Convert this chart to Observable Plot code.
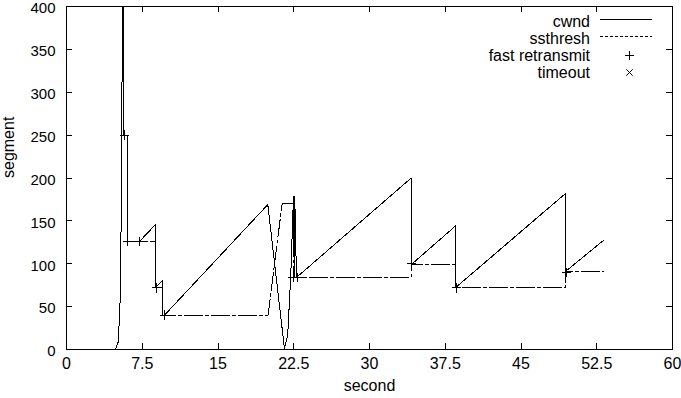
<!DOCTYPE html>
<html><head><meta charset="utf-8">
<script src="https://cdn.jsdelivr.net/npm/d3@7"></script>
<script src="https://cdn.jsdelivr.net/npm/@observablehq/plot@0.6"></script>
<style>body{margin:0;background:#fff;}</style>
</head><body><div id="chart"></div>
<script>
// cwnd (segments) over time (seconds)
const cwndTime = [4.85, 5.1, 5.2, 5.3, 5.38, 5.45, 5.5, 5.55, 5.62, 5.65, 5.66, 6.05, 6.05, 7.23, 8.83, 8.83, 9.53, 9.53, 9.7, 19.93, 21.58, 21.9, 22.2, 22.45, 22.5, 22.55, 22.6, 22.77, 34.13, 34.13, 38.51, 38.51, 49.41, 49.41, 53.14];
const cwndSeg  = [0, 8, 28, 55, 120, 190, 320, 440, 440, 316, 250, 250, 126, 126, 146, 72, 81, 40, 40, 169, 1, 17, 85, 170, 178, 84, 178, 84, 200, 99, 144, 72, 182, 91, 127];
// ssthresh
const ssthreshTime = [5.65, 8.83, 8.83, 9.53, 9.53, 19.96, 21.35, 22.52, 22.52, 34.13, 34.13, 38.51, 38.51, 49.41, 49.41, 53.14];
const ssthreshSeg  = [126, 126, 72, 72, 40, 40, 170, 170, 84, 84, 99, 99, 72, 72, 91, 91];
// fast retransmit events
const fastRetransmitTime = [5.73, 6.05, 7.23, 8.9, 9.7, 22.45, 22.9, 34.16, 38.6, 49.5];
const fastRetransmitSeg  = [250, 126, 126, 72, 40, 84, 84, 100, 72, 90];
// timeout events (none visible)
const timeoutTime = [];
const timeoutSeg = [];
// axes
const xTicks = [0, 7.5, 15, 22.5, 30, 37.5, 45, 52.5, 60];
const yTicks = [0, 50, 100, 150, 200, 250, 300, 350, 400];
const seriesNames = ["cwnd", "ssthresh", "fast retransmit", "timeout"];
const xLabel = "second";
const yLabel = "segment";

const cwnd = cwndTime.map((t, i) => ({t, v: cwndSeg[i]}));
const ssthresh = ssthreshTime.map((t, i) => ({t, v: ssthreshSeg[i]}));
const fr = fastRetransmitTime.map((t, i) => ({t, v: fastRetransmitSeg[i]}));
const to = timeoutTime.map((t, i) => ({t, v: timeoutSeg[i]}));

const W = 681, H = 398, mL = 66, mR = 9, mT = 6, mB = 49;
const fw = W - mL - mR, fh = H - mT - mB;
const dash = "18,3,3,3";

const chart = Plot.plot({
  width: W, height: H, marginLeft: mL, marginRight: mR, marginTop: mT, marginBottom: mB,
  style: {fontFamily: "'Liberation Sans', Arial, sans-serif", fontSize: "16px", color: "#000", background: "#fff", overflow: "visible"},
  x: {domain: [0, 60]},
  y: {domain: [0, 400]},
  marks: [
    Plot.axisX(xTicks, {tickSize: 0, tickPadding: 8, label: null, tickFormat: d => String(d)}),
    Plot.axisY(yTicks, {tickSize: 0, tickPadding: 11, label: null, fontSize: 15, dy: 2, tickFormat: d => String(d)}),
    Plot.tickX(xTicks, {x: d => d, insetTop: fh - 6, stroke: "black", shapeRendering: "crispEdges"}),
    Plot.tickX(xTicks, {x: d => d, insetBottom: fh - 6, stroke: "black", shapeRendering: "crispEdges"}),
    Plot.tickY(yTicks, {y: d => d, insetRight: fw - 6, stroke: "black", shapeRendering: "crispEdges"}),
    Plot.tickY(yTicks, {y: d => d, insetLeft: fw - 6, stroke: "black", shapeRendering: "crispEdges"}),
    Plot.line(ssthresh, {x: "t", y: "v", stroke: "black", strokeWidth: 1, strokeDasharray: dash, clip: true, shapeRendering: "crispEdges"}),
    Plot.line(cwnd, {x: "t", y: "v", stroke: "black", strokeWidth: 1, clip: true, shapeRendering: "crispEdges"}),
    Plot.dot(fr, {x: "t", y: "v", symbol: "plus", r: 3.2, stroke: "black", strokeWidth: 1, shapeRendering: "crispEdges"}),
    Plot.dot(to, {x: "t", y: "v", symbol: "times", r: 3, stroke: "black", strokeWidth: 1}),
    Plot.frame({stroke: "black", shapeRendering: "crispEdges"}),
    Plot.text([xLabel], {frameAnchor: "bottom", dy: 41, text: d => d}),
    Plot.text([yLabel], {frameAnchor: "left", dx: -58, rotate: -90, text: d => d})
  ]
});
document.getElementById("chart").appendChild(chart);

// legend (inside top-right)
const svg = d3.select(chart);
const lg = svg.append("g").attr("font-family", "'Liberation Sans', Arial, sans-serif").attr("font-size", 16);
const rows = [21, 38, 55, 72];
seriesNames.forEach((name, i) => {
  lg.append("text").attr("x", 590).attr("y", rows[i]).attr("dy", "0.35em").attr("text-anchor", "end").attr("fill", "black").text(name);
});
lg.append("line").attr("x1", 600).attr("x2", 652).attr("y1", rows[0] - 1.5).attr("y2", rows[0] - 1.5).attr("stroke", "black").attr("shape-rendering", "crispEdges");
lg.append("line").attr("x1", 600).attr("x2", 652).attr("y1", rows[1] - 1.5).attr("y2", rows[1] - 1.5).attr("stroke", "black").attr("stroke-dasharray", "3,2").attr("shape-rendering", "crispEdges");
lg.append("path").attr("transform", `translate(629.5,${rows[2] + 0.5})`).attr("d", d3.symbol(d3.symbolPlus, Math.PI * 10)()).attr("stroke", "black").attr("fill", "none").attr("shape-rendering", "crispEdges");
lg.append("path").attr("transform", `translate(629.5,${rows[3] + 0.5})`).attr("d", d3.symbol(d3.symbolTimes, Math.PI * 9)()).attr("stroke", "black").attr("fill", "none");
</script>
</body></html>
